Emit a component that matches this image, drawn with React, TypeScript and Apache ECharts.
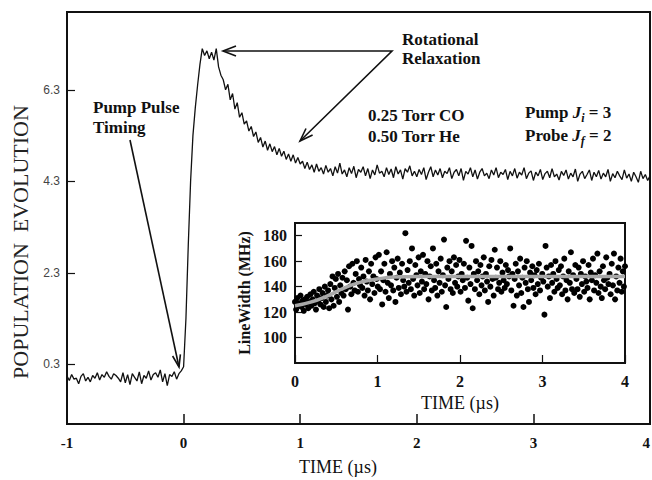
import React, { useEffect, useRef } from "react";
import * as echarts from "echarts";

// ---- Main trace: population evolution, sampled every 0.02 µs from -1 to 4 ----
const baseline = [
  0.05, -0.05, 0.08, -0.02, 0.0, -0.12, 0.04, 0.1, -0.06, 0.02,
  -0.08, 0.06, 0.0, 0.12, -0.04, 0.08, 0.02, 0.14, 0.04, -0.02,
  0.1, 0.06, 0.0, -0.08, 0.12, -0.1, 0.08, -0.14, 0.1, 0.02,
  -0.06, 0.14, -0.12, 0.06, 0.0, 0.16, -0.04, 0.08, 0.12, 0.02,
  0.18, -0.08, 0.1, -0.16, 0.08, 0.04, 0.14, -0.02, 0.1, 0.16,
  0.25,
];
const rise = [1.3, 2.9, 4.3, 5.3, 5.9, 6.4, 6.85];
const peak = [7.2, 7.05, 7.15, 6.98, 7.12, 6.95, 7.2, 6.8];
const decay = [
  6.62, 6.52, 6.3, 6.42, 6.08, 6.22, 5.88, 6.02, 5.7, 5.8,
  5.55, 5.62, 5.4, 5.5, 5.28, 5.38, 5.15, 5.26, 5.05, 5.18,
  4.98, 5.12, 4.95, 5.06, 4.88, 5.02, 4.85, 4.96, 4.78, 4.9,
  4.74, 4.88, 4.7, 4.82, 4.68,
];
const tail = [
  4.74, 4.58, 4.72, 4.56, 4.66, 4.5, 4.68, 4.52, 4.6, 4.46,
  4.65, 4.5, 4.58, 4.42, 4.62, 4.48, 4.7, 4.46, 4.55, 4.4,
  4.6, 4.47, 4.63, 4.38, 4.56, 4.5, 4.62, 4.42, 4.58, 4.36,
  4.55, 4.44, 4.66, 4.48, 4.52, 4.4, 4.6, 4.45, 4.57, 4.38,
  4.62, 4.46, 4.55, 4.35, 4.58, 4.5, 4.64, 4.42, 4.52, 4.4,
  4.56, 4.45, 4.6, 4.34, 4.5, 4.62, 4.4, 4.55, 4.44, 4.58,
  4.38, 4.52, 4.47, 4.6, 4.36, 4.5, 4.56, 4.42, 4.58, 4.32,
  4.52, 4.46, 4.6, 4.4, 4.55, 4.35, 4.5, 4.58, 4.42, 4.48,
  4.36, 4.55, 4.44, 4.6, 4.38, 4.5, 4.45, 4.56, 4.34, 4.52,
  4.42, 4.58, 4.37, 4.5, 4.44, 4.6, 4.36, 4.48, 4.53, 4.32,
  4.5, 4.42, 4.56, 4.34, 4.47, 4.52, 4.38, 4.58, 4.4, 4.46,
  4.33, 4.52, 4.43, 4.55, 4.35, 4.48, 4.4, 4.57, 4.3, 4.46,
  4.52, 4.36, 4.45, 4.55, 4.32, 4.5, 4.4, 4.54, 4.35, 4.48,
  4.4, 4.56, 4.3, 4.47, 4.38, 4.52, 4.42, 4.34, 4.55, 4.37,
  4.46, 4.3, 4.5, 4.4, 4.28, 4.52, 4.36, 4.45, 4.32, 4.42,
];
const mainTimeStart = -1;
const mainTimeStep = 0.02;
const mainYTicks = [0.3, 2.3, 4.3, 6.3];

// ---- Inset: line width scatter (MHz), 300 samples spanning 0..4 µs ----
const lineWidth = [
  128, 122, 131, 125, 127, 133, 124, 129, 121, 130, 126, 132, 123, 128, 134,
  125, 130, 136, 127, 122, 133, 129, 138, 126, 131, 135, 124, 140, 128, 133,
  137, 123, 142, 130, 148, 125, 139, 146, 132, 150, 128, 141, 135, 147, 133,
  152, 138, 145, 122, 156, 140, 134, 158, 143, 137, 150, 160, 136, 146, 141,
  155, 139, 148, 133, 161, 144, 137, 152, 130, 158, 142, 148, 135, 163, 146,
  140, 165, 138, 152, 126, 145, 158, 136, 167, 143, 131, 150, 141, 160, 137,
  155, 128, 147, 162, 139, 151, 134, 158, 145, 140, 182, 136, 153, 143, 160,
  138, 170, 146, 133, 157, 149, 141, 163, 135, 152, 144, 165, 138, 150, 142,
  160, 130, 148, 156, 137, 170, 145, 139, 158, 133, 152, 143, 162, 136, 149,
  177, 141, 124, 155, 146, 160, 138, 152, 135, 163, 143, 157, 140, 148, 161,
  136, 150, 145, 158, 139, 176, 147, 129, 155, 142, 172, 123, 150, 138, 160,
  145, 152, 134, 157, 141, 148, 163, 137, 150, 144, 128, 156, 140, 161, 146,
  133, 169, 147, 155, 138, 143, 160, 136, 151, 145, 139, 157, 142, 153, 148,
  170, 137, 150, 125, 146, 158, 133, 152, 141, 162, 135, 147, 124, 155, 143,
  160, 138, 128, 151, 145, 156, 139, 149, 134, 153, 142, 158, 137, 147, 150,
  144, 118, 172, 155, 140, 148, 131, 157, 143, 150, 136, 160, 146, 139, 153,
  141, 156, 134, 148, 162, 137, 145, 130, 152, 143, 167, 138, 149, 135, 157,
  146, 138, 155, 132, 150, 142, 160, 136, 148, 144, 139, 157, 130, 151, 145,
  162, 137, 149, 143, 166, 135, 152, 140, 131, 156, 145, 138, 163, 147, 142,
  150, 134, 158, 141, 166, 130, 148, 137, 155, 143, 162, 136, 152, 140, 156,
];
const insetTimeMax = 4;
const fitTime = [0, 0.2, 0.4, 0.6, 0.8, 1.0, 1.2, 1.5, 2, 3, 4];
const fitWidth = [125, 128, 133, 139, 143.5, 146, 147.5, 148, 148, 148, 148];
const insetYTicks = [100, 120, 140, 160, 180];

const SERIF = "'Liberation Serif', 'Times New Roman', serif";
const SANS = "'Liberation Sans', Arial, sans-serif";

export default function App() {
  const ref = useRef<HTMLDivElement>(null);

  useEffect(() => {
    if (!ref.current) return;
    const chart = echarts.init(ref.current, null, { renderer: "svg" });

    const mainValues = [...baseline, ...rise, ...peak, ...decay, ...tail];
    const mainData = mainValues.map((v, i) => [
      Math.round((mainTimeStart + i * mainTimeStep) * 100) / 100,
      v,
    ]);
    const insetData = lineWidth.map((v, i) => [
      (i * insetTimeMax) / (lineWidth.length - 1),
      v,
    ]);
    const fitData = fitTime.map((t, i) => [t, fitWidth[i]]);

    const boldSerif = (size: number) => ({
      fontFamily: SERIF,
      fontWeight: "bold" as const,
      fontSize: size,
      color: "#111",
    });

    const richJ = {
      n: { fontFamily: SERIF, fontWeight: "bold", fontSize: 17, fill: "#111", lineHeight: 24 },
      j: { fontFamily: SERIF, fontWeight: "bold", fontStyle: "italic", fontSize: 17, fill: "#111", lineHeight: 24 },
      s: { fontFamily: SERIF, fontWeight: "bold", fontStyle: "italic", fontSize: 12, fill: "#111", lineHeight: 12, verticalAlign: "bottom" },
    };

    const textStyle = (text: string, size = 17, extra: any = {}) => ({
      text,
      fontFamily: SERIF,
      fontWeight: "bold",
      fontSize: size,
      fill: "#111",
      ...extra,
    });

    const arrowStroke = { stroke: "#111", lineWidth: 1.6, fill: null };

    chart.setOption({
      animation: false,
      backgroundColor: "#fff",
      grid: [
        {
          left: 67,
          top: 12,
          width: 583,
          height: 412,
          show: true,
          borderColor: "#111",
          borderWidth: 2,
          backgroundColor: "transparent",
          containLabel: false,
          outerBoundsMode: "none",
        },
        {
          left: 295,
          top: 223,
          width: 330,
          height: 140,
          show: true,
          borderColor: "#111",
          borderWidth: 2,
          backgroundColor: "#fff",
          containLabel: false,
          outerBoundsMode: "none",
        },
      ],
      xAxis: [
        {
          gridIndex: 0,
          type: "value",
          position: "bottom",
          min: -1,
          max: 4,
          interval: 1,
          axisLine: { show: false, onZero: false },
          axisTick: { show: true, inside: true, length: 10, lineStyle: { color: "#111", width: 1.5 } },
          axisLabel: { ...boldSerif(15), margin: 11, alignMaxLabel: "right" },
          splitLine: { show: false },
        },
        {
          gridIndex: 1,
          type: "value",
          position: "bottom",
          min: 0,
          max: 4,
          interval: 1,
          name: "TIME (µs)",
          nameLocation: "middle",
          nameGap: 31,
          nameTextStyle: { fontFamily: SERIF, fontSize: 18, color: "#111" },
          axisLine: { show: false, onZero: false },
          axisTick: { show: true, inside: true, length: 8, lineStyle: { color: "#111", width: 1.2 } },
          axisLabel: { ...boldSerif(16), margin: 10 },
          splitLine: { show: false },
        },
      ],
      yAxis: [
        {
          gridIndex: 0,
          type: "value",
          position: "left",
          min: -1,
          max: 8,
          axisLine: { show: false, onZero: false },
          axisTick: {
            show: true,
            inside: true,
            length: 8,
            customValues: mainYTicks,
            lineStyle: { color: "#111", width: 1.2 },
          },
          axisLabel: {
            customValues: mainYTicks,
            formatter: (v: number) => v.toFixed(1),
            fontFamily: SANS,
            fontSize: 12,
            color: "#444",
            margin: 7,
          },
          splitLine: { show: false },
        },
        {
          gridIndex: 1,
          type: "value",
          position: "left",
          min: 80,
          max: 190,
          name: "LineWidth (MHz)",
          nameLocation: "middle",
          nameGap: 39,
          nameTextStyle: { fontFamily: SERIF, fontWeight: "bold", fontSize: 16, color: "#111" },
          axisLine: { show: false, onZero: false },
          axisTick: {
            show: true,
            inside: true,
            length: 7,
            customValues: insetYTicks,
            lineStyle: { color: "#111", width: 1.2 },
          },
          axisLabel: { ...boldSerif(16), margin: 8, customValues: insetYTicks },
          splitLine: { show: false },
        },
      ],
      series: [
        {
          type: "line",
          xAxisIndex: 0,
          yAxisIndex: 0,
          data: mainData,
          symbol: "none",
          lineStyle: { color: "#111", width: 1.3 },
          z: 3,
        },
        {
          type: "scatter",
          xAxisIndex: 1,
          yAxisIndex: 1,
          data: insetData,
          symbol: "circle",
          symbolSize: 6,
          itemStyle: { color: "#000", opacity: 1 },
          z: 4,
        },
        {
          type: "line",
          xAxisIndex: 1,
          yAxisIndex: 1,
          data: fitData,
          smooth: true,
          symbol: "none",
          lineStyle: { color: "#a8a8a8", width: 3.5 },
          z: 5,
        },
      ],
      graphic: [
        // Y axis title
        {
          type: "text",
          x: 20,
          y: 242,
          rotation: Math.PI / 2,
          style: {
            text: "POPULATION  EVOLUTION",
            fontFamily: SERIF,
            fontSize: 22,
            fill: "#222",
            align: "center",
            verticalAlign: "middle",
          },
        },
        // X axis title
        {
          type: "text",
          x: 338,
          y: 467,
          style: {
            text: "TIME (µs)",
            fontFamily: SERIF,
            fontSize: 18,
            fill: "#111",
            align: "center",
            verticalAlign: "middle",
          },
        },
        // Pump pulse timing label & arrow
        {
          type: "text",
          x: 93,
          y: 97,
          style: textStyle("Pump Pulse\nTiming", 17, { lineHeight: 20 }),
        },
        { type: "polyline", shape: { points: [[130, 140], [179, 367]] }, style: arrowStroke },
        { type: "polyline", shape: { points: [[172.6, 356], [179, 367], [180.4, 354.4]] }, style: arrowStroke },
        // Rotational relaxation label & arrows
        {
          type: "text",
          x: 402,
          y: 30,
          style: textStyle("Rotational\nRelaxation", 17, { lineHeight: 19 }),
        },
        { type: "polyline", shape: { points: [[223, 51], [392, 51], [300, 141]] }, style: arrowStroke },
        { type: "polyline", shape: { points: [[236, 46], [223, 51], [236, 56]] }, style: arrowStroke },
        { type: "polyline", shape: { points: [[306, 128.5], [300, 141], [312.6, 135]] }, style: arrowStroke },
        // Gas conditions
        {
          type: "text",
          x: 368,
          y: 105,
          style: textStyle("0.25 Torr CO\n0.50 Torr He", 17, { lineHeight: 21 }),
        },
        // Pump / probe
        {
          type: "text",
          x: 525,
          y: 112,
          style: {
            text: "{n|Pump }{j|J}{s|i}{n| = 3}",
            rich: richJ,
            verticalAlign: "middle",
          },
        },
        {
          type: "text",
          x: 525,
          y: 135,
          style: {
            text: "{n|Probe }{j|J}{s|f}{n| = 2}",
            rich: richJ,
            verticalAlign: "middle",
          },
        },
      ],
    });

    return () => chart.dispose();
  }, []);

  return (
    <div
      ref={ref}
      style={{ position: "fixed", left: 0, top: 0, width: 652, height: 480, background: "#fff" }}
    />
  );
}
